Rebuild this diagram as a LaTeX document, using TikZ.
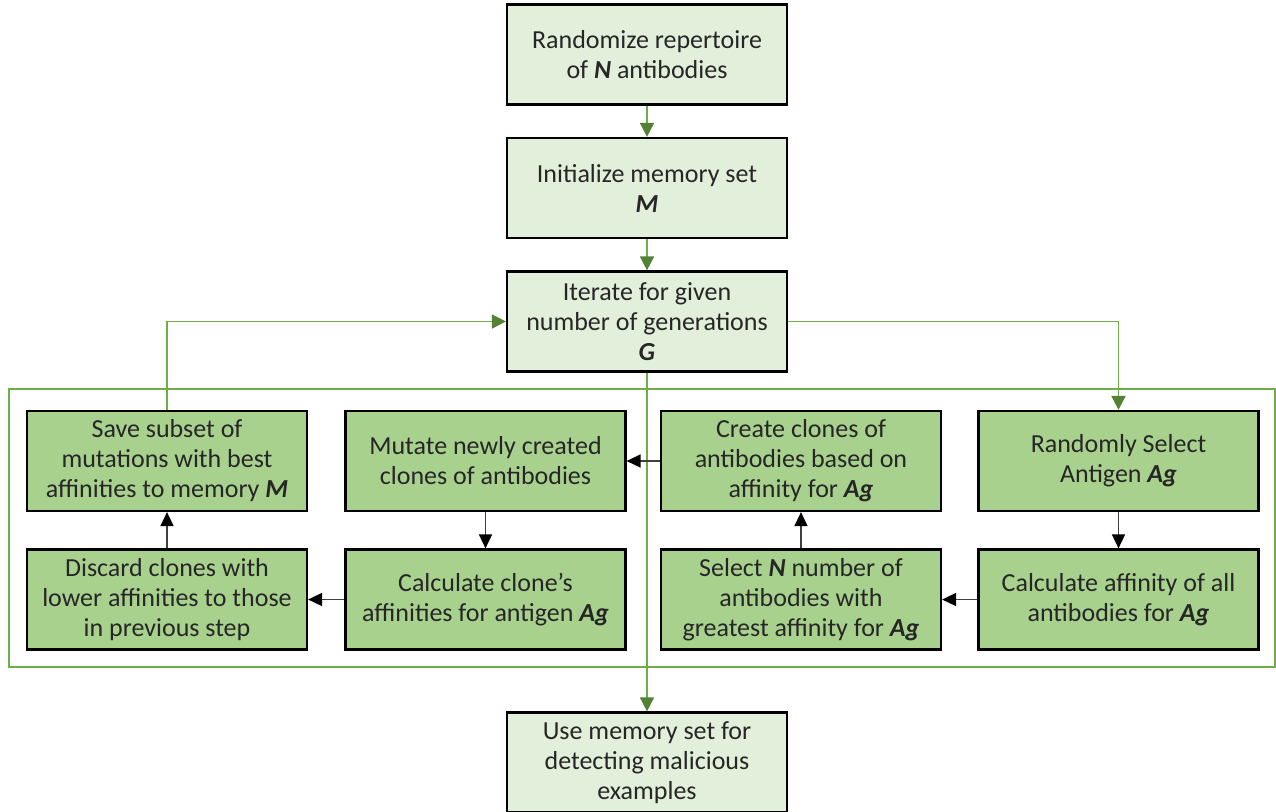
\documentclass[tikz,border=0pt]{standalone}
\usepackage{fontspec}
\setmainfont{Carlito}
\usetikzlibrary{arrows.meta}
\definecolor{lightfill}{HTML}{E2EFDA}
\definecolor{darkfill}{HTML}{A9D18E}
\definecolor{linegreen}{HTML}{70AD47}
\definecolor{tipgreen}{HTML}{548235}
\definecolor{txt}{HTML}{262626}
\newcommand{\bivar}[1]{\textbf{\textit{#1}}}

\begin{document}
\begin{tikzpicture}[x=0.5pt,y=-0.5pt,
  box/.style={draw=black, line width=1.1pt, minimum width=140pt, minimum height=50pt,
    align=center, font=\fontsize{13}{15}\selectfont, text=txt, inner sep=0pt},
  stagebox/.style={box, fill=lightfill},
  loopbox/.style={box, fill=darkfill},
  flow/.style={draw=linegreen, line width=0.8pt, -{Triangle[width=7pt,length=7pt,color=tipgreen]}},
  link/.style={draw=black!75, line width=0.8pt, -{Triangle[width=6.5pt,length=7pt,color=black]}}]
\useasboundingbox (0,0) rectangle (1276,811);

% main sequence
\node[stagebox] (rep)  at (647,54.5)  {Randomize repertoire\\of \bivar{N} antibodies};
\node[stagebox] (mem)  at (647,188)   {Initialize memory set\\\bivar{M}};
\node[stagebox] (iter) at (647,321.5) {Iterate for given\\number of generations\\\bivar{G}};
\node[stagebox] (use)  at (647,762.5) {Use memory set for\\detecting malicious\\examples};

% loop frame
\draw[linegreen, line width=1.2pt] (9,389) rectangle (1275,667);

% loop body, upper row
\node[loopbox] (save)   at (167,461)    {Save subset of\\mutations with best\\affinities to memory \bivar{M}};
\node[loopbox] (mutate) at (485.5,461)  {Mutate newly created\\clones of antibodies};
\node[loopbox] (create) at (801,461)    {Create clones of\\antibodies based on\\affinity for \bivar{Ag}};
\node[loopbox] (rand)   at (1118.5,461) {Randomly Select\\Antigen \bivar{Ag}};

% loop body, lower row
\node[loopbox] (discard)   at (167,599.5)    {Discard clones with\\lower affinities to those\\in previous step};
\node[loopbox] (calcclone) at (485.5,599.5)  {Calculate clone’s\\affinities for antigen \bivar{Ag}};
\node[loopbox] (select)    at (801,599.5)    {Select \bivar{N} number of\\antibodies with\\greatest affinity for \bivar{Ag}};
\node[loopbox] (calcaff)   at (1118.5,599.5) {Calculate affinity of all\\antibodies for \bivar{Ag}};

% green flow
\draw[flow] (rep) -- (mem);
\draw[flow] (mem) -- (iter);
\draw[flow] (iter) -- (use);
\draw[flow] (save.north) |- (iter.west);
\draw[flow] (iter.east) -| (rand.north);

% black links inside the loop
\draw[link] (rand) -- (calcaff);
\draw[link] (calcaff) -- (select);
\draw[link] (select) -- (create);
\draw[link] (create) -- (mutate);
\draw[link] (mutate) -- (calcclone);
\draw[link] (calcclone) -- (discard);
\draw[link] (discard) -- (save);
\end{tikzpicture}
\end{document}
